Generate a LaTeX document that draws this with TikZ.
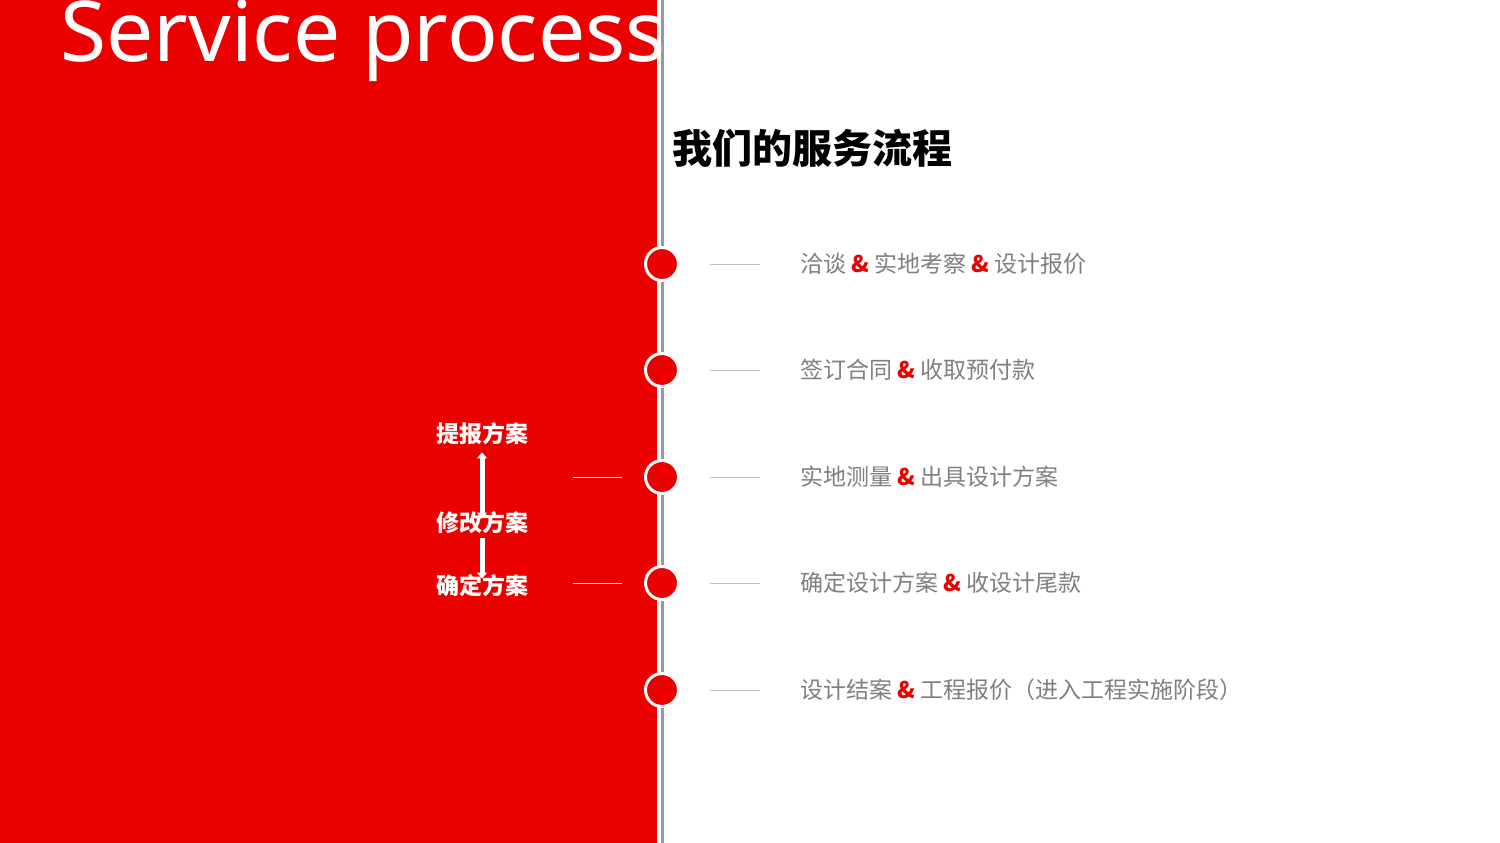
\documentclass[tikz,border=0pt]{standalone}
\usepackage{fontspec}
\setmainfont{Noto Sans}
\newfontfamily\cjk{Noto Sans CJK SC}
\usetikzlibrary{arrows.meta}
\definecolor{redA}{HTML}{EB0000}
\definecolor{grayT}{HTML}{7F7F7F}
\tikzset{
  dot/.style={circle,fill=redA,draw=white,line width=3pt,minimum size=33pt,inner sep=0pt},
  item/.style={anchor=west,text=grayT,font=\cjk\fontsize{23}{23}\selectfont,inner sep=0pt},
  lbl/.style={text=white,font=\cjk\bfseries\fontsize{23}{23}\selectfont,inner sep=0pt},
  amp/.style={text=redA,font=\bfseries}
}
\begin{document}
\begin{tikzpicture}[x=1pt,y=-1pt]
\useasboundingbox (0,0) rectangle (1500,843);
\fill[white] (0,0) rectangle (1500,843);
\fill[redA] (0,0) rectangle (657,843);
\draw[gray!80,line width=3pt] (662,0) -- (662,843);
\node[anchor=base west,text=white,font=\fontsize{84}{84}\selectfont,inner sep=0pt] (title) at (60,62) {Service process};
\node[anchor=west,font=\cjk\bfseries\fontsize{40}{40}\selectfont,inner sep=0pt] (head) at (672,148) {我们的服务流程};
\foreach \i/\y/\t in {
 1/264/{洽谈 {\color{redA}\bfseries\&} 实地考察 {\color{redA}\bfseries\&} 设计报价},
 2/370/{签订合同 {\color{redA}\bfseries\&} 收取预付款},
 3/477/{实地测量 {\color{redA}\bfseries\&} 出具设计方案},
 4/583/{确定设计方案 {\color{redA}\bfseries\&} 收设计尾款},
 5/690/{设计结案 {\color{redA}\bfseries\&} 工程报价（进入工程实施阶段）}}{
  \node[dot] (c\i) at (662,\y) {};
  \coordinate (ls\i) at (710,\y);
  \node[item] (t\i) at (800,\y) {\t};
  \draw[gray!50,line width=1pt] (ls\i) -- ++(50,0);
}
\node[lbl] (p1) at (482,434) {提报方案};
\node[lbl] (p2) at (482,523) {修改方案};
\node[lbl] (p3) at (482,586) {确定方案};
\draw[white,line width=5pt,{Triangle[width=10pt,length=6pt]}-{Triangle[width=10pt,length=6pt]}] (p1.south)++(0,7) -- ([yshift=-7pt]p2.north);
\draw[white,line width=5pt,-{Triangle[width=10pt,length=6pt]}] (p2.south)++(0,4) -- ([yshift=-4pt]p3.north);
\draw[white,line width=1pt] (573,477) -- (622,477);
\draw[white,line width=1pt] (573,583) -- (622,583);
\end{tikzpicture}
\end{document}
